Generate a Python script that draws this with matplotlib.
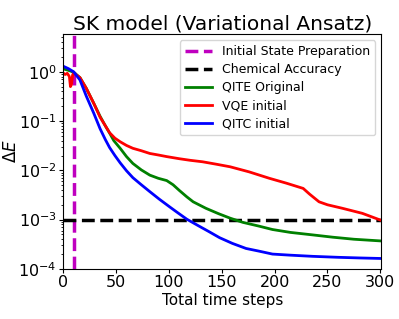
import numpy as np
import matplotlib
matplotlib.use('Agg')
import matplotlib.pyplot as plt

# values (time step, Delta E)
qite_t = [0, 5, 10, 16, 22, 29, 35, 40, 44, 48, 54, 60, 66, 74, 82, 90, 98, 104,
          110, 117, 123, 135, 147, 158, 170, 185, 198, 215, 236, 255, 275, 300]
qite_e = [1.15, 1.07, 0.98, 0.76, 0.46, 0.23, 0.125, 0.08, 0.057, 0.04, 0.028, 0.019,
          0.0138, 0.0102, 0.008, 0.0069, 0.0062, 0.0051, 0.0039, 0.0029, 0.0023,
          0.0017, 0.00132, 0.00107, 0.00088, 0.00074, 0.00063, 0.00055, 0.00049,
          0.00044, 0.0004, 0.00037]

vqe_t = [0, 2, 4, 6, 7, 8, 9, 10, 16, 22, 29, 35, 40, 44, 49, 54, 60, 66, 74, 82, 90,
         98, 110, 120, 132, 145, 158, 176, 195, 211, 227, 233, 242, 250, 264, 283, 300]
vqe_e = [0.95, 0.88, 0.93, 0.8, 0.5, 0.55, 0.85, 0.95, 0.76, 0.46, 0.23, 0.12,
         0.08, 0.058, 0.045, 0.038, 0.032, 0.028, 0.025, 0.022, 0.0205, 0.019,
         0.0172, 0.016, 0.0149, 0.0133, 0.0118, 0.0093, 0.0069, 0.0055, 0.0043,
         0.0033, 0.0023, 0.002, 0.0017, 0.00134, 0.00098]

qitc_t = [0, 5, 10, 16, 22, 29, 35, 40, 44, 49, 54, 60, 66, 74, 82, 91, 101, 108, 117,
          128, 138, 148, 160, 173, 185, 198, 215, 236, 260, 280, 300]
qitc_e = [1.3, 1.16, 1.0, 0.68, 0.32, 0.145, 0.07, 0.042, 0.029, 0.02, 0.0142, 0.0098,
          0.0071, 0.0051, 0.0037, 0.0026, 0.0018, 0.0014, 0.00102, 0.00075, 0.00057,
          0.00043, 0.00033, 0.00026, 0.00023, 0.0002, 0.00019, 0.00018, 0.000172,
          0.000167, 0.000163]

prep_step = 10
chem_acc = 1e-3

fig, ax = plt.subplots(figsize=(3.99, 3.19), dpi=100)
ax.axvline(prep_step, color='m', ls='--', lw=2.5, label='Initial State Preparation')
ax.axhline(chem_acc, color='k', ls='--', lw=2.5, label='Chemical Accuracy')
ax.plot(qite_t, qite_e, color='g', lw=2, label='QITE Original')
ax.plot(vqe_t, vqe_e, color='r', lw=2, label='VQE initial')
ax.plot(qitc_t, qitc_e, color='b', lw=2, label='QITC initial')

ax.set_yscale('log')
ax.set_ylim(1e-4, 5.8)
ax.set_xlim(0, 301)
ax.set_xticks([0, 50, 100, 150, 200, 250, 300])
ax.tick_params(labelsize=11.5, length=3, pad=1.5)
ax.tick_params(which='minor', length=1.5)
ax.set_xlabel('Total time steps', fontsize=11, labelpad=2)
ax.set_ylabel(r'$\Delta E$', fontsize=12)
ax.yaxis.set_label_coords(-0.135, 0.5)
ax.set_title('SK model (Variational Ansatz)', fontsize=14.5, pad=3)
ax.legend(loc='upper right', fontsize=9, handlelength=2.2, labelspacing=0.4)

fig.subplots_adjust(left=0.158, right=0.956, top=0.893, bottom=0.157)
fig.savefig('out.png', dpi=100)
plt.close(fig)
